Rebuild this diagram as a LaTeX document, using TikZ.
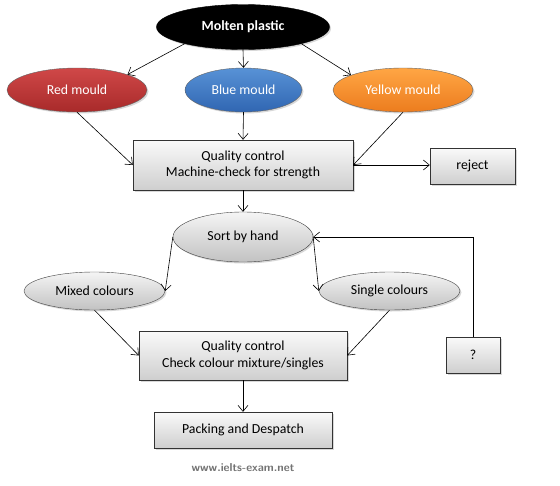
\documentclass[tikz,border=0pt]{standalone}
\usepackage{fontspec}
\setmainfont{Carlito}
\usetikzlibrary{shapes.geometric, shadows, arrows.meta}
\definecolor{redtop}{RGB}{208,72,72}
\definecolor{redbot}{RGB}{168,42,42}
\definecolor{bluetop}{RGB}{88,146,214}
\definecolor{bluebot}{RGB}{48,102,178}
\definecolor{yeltop}{RGB}{255,166,68}
\definecolor{yelbot}{RGB}{236,124,30}
\tikzset{ o/.style = { ellipse
                     , draw         = black!60
                     , inner sep    = 0pt
                     , minimum height = 45pt
                     , text         = white
                     , drop shadow  = {shadow xshift=1.5pt, shadow yshift=-1.5pt, opacity=0.3}
                     },
          g/.style = { ellipse
                     , draw         = black!75
                     , inner sep    = 0pt
                     , top color    = gray!8
                     , bottom color = gray!48
                     , drop shadow  = {shadow xshift=1.5pt, shadow yshift=-1.5pt, opacity=0.3}
                     },
          b/.style = { rectangle
                     , draw         = black!80
                     , align        = center
                     , inner sep    = 0pt
                     , top color    = gray!4
                     , bottom color = gray!38
                     , drop shadow  = {shadow xshift=1.5pt, shadow yshift=-1.5pt, opacity=0.3}
                     },
          a/.style = { -{Straight Barb[length=6pt, width=10pt]}
                     , black
                     , semithick
                     }
        }

\begin{document}
\begin{tikzpicture}[x=1pt, y=-1pt, font=\fontsize{13.8}{16.5}\selectfont]
    \fill[white] (0,0) rectangle (560,485);
    \useasboundingbox (0,0) rectangle (560,485);
    % top row
    \node[o, fill=black, draw=black, minimum width=173pt, font=\fontsize{14}{16}\selectfont\bfseries]
        (molten) at (243,27) {Molten plastic};
    \node[o, top color=redtop, bottom color=redbot, minimum width=140pt, minimum height=44pt]
        (red) at (77,90) {Red mould};
    \node[o, top color=bluetop, bottom color=bluebot, minimum width=117pt, minimum height=44pt]
        (blue) at (243.5,90) {Blue mould};
    \node[o, top color=yeltop, bottom color=yelbot, minimum width=140pt, minimum height=44pt]
        (yellow) at (403,90) {Yellow mould};
    % checks
    \node[b, minimum width=220pt, minimum height=50pt] (qc1) at (243,165)
        {Quality control\\Machine-check for strength};
    \node[b, minimum width=85pt, minimum height=36pt] (reject) at (472.5,166) {reject};
    \node[g, minimum width=140pt, minimum height=50pt] (sort) at (243,237) {Sort by hand};
    \node[g, minimum width=141pt, minimum height=38pt] (mixed) at (94.5,291) {Mixed colours};
    \node[g, minimum width=141pt, minimum height=38pt] (single) at (389.5,291) {Single colours};
    \node[b, minimum width=208pt, minimum height=49pt] (qc2) at (243,355.5)
        {Quality control\\Check colour mixture/singles};
    \node[b, minimum width=54pt, minimum height=36pt] (q) at (473,355) {?};
    \node[b, minimum width=178pt, minimum height=36pt] (pack) at (243,430) {Packing and Despatch};
    \node[font=\fontsize{11.5}{13}\selectfont\sffamily\bfseries, text=black!55] (www) at (243,468)
        {www.ielts-exam.net};
    % connectors
    \draw[a] (molten.196) -- (red.17);
    \draw[a] (molten.south) -- (blue.north);
    \draw[a] (molten.-16) -- (yellow.164);
    \draw[a] (red.south) -- (qc1.west);
    \draw[a] (blue.south) -- (qc1.north);
    \draw[a] (yellow.south) -- (qc1.east);
    \draw[a] (qc1.east) -- (reject.west |- qc1.east);
    \draw[a] (qc1.south) -- (sort.north);
    \draw[a] (sort.west) -- (mixed.east);
    \draw[a] (sort.east) -- (single.west);
    \draw[a] (mixed.south) -- (qc2.west);
    \draw[a] (single.south) -- (qc2.east);
    \draw[a] (q.north) |- (sort.east);
    \draw[a] (qc2.south) -- (pack.north);
\end{tikzpicture}
\end{document}
